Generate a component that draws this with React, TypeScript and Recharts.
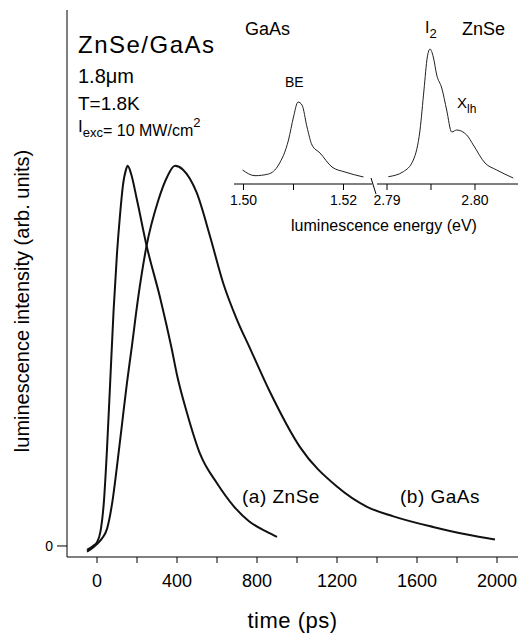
import { LineChart, Line, XAxis, YAxis } from 'recharts';

const FONT = '"Liberation Sans", Arial, Helvetica, sans-serif';

// time-resolved PL, normalised (arb. units), time in ps
const znseTime = [-50, -20, 0, 17, 35, 50, 65, 83, 100, 115, 130, 145, 153, 170, 200, 248, 317, 373, 400, 450, 517, 600, 683, 760, 850, 900];
const znseIntensity = [-0.01, 0, 0.01, 0.037, 0.12, 0.255, 0.42, 0.62, 0.77, 0.87, 0.95, 0.99, 1.0, 0.98, 0.91, 0.79, 0.65, 0.52, 0.45, 0.35, 0.24, 0.165, 0.105, 0.065, 0.037, 0.024];

const gaasTime = [-50, 0, 25, 50, 75, 100, 125, 150, 173, 205, 248, 307, 350, 390, 430, 498, 565, 632, 700, 765, 865, 1015, 1198, 1350, 1482, 1680, 1850, 1990];
const gaasIntensity = [-0.015, 0.005, 0.02, 0.045, 0.11, 0.21, 0.32, 0.43, 0.52, 0.65, 0.79, 0.91, 0.97, 1.0, 0.99, 0.93, 0.815, 0.69, 0.595, 0.52, 0.405, 0.26, 0.157, 0.103, 0.078, 0.05, 0.03, 0.017];

const timeTicks = [0, 200, 400, 600, 800, 1000, 1200, 1400, 1600, 1800, 2000];
const intensityTicks = [0];

// inset: cw spectra, energy in eV
const gaasEnergy = [1.4998, 1.5023, 1.505, 1.507, 1.509, 1.51, 1.5109, 1.5117, 1.5127, 1.5137, 1.5153, 1.5177, 1.5203, 1.524];
const gaasSpectrum = [0.14, 0.083, 0.1, 0.19, 0.44, 0.67, 0.82, 0.79, 0.57, 0.39, 0.31, 0.17, 0.12, 0.07];

const znseEnergy = [2.79015, 2.79185, 2.79299, 2.79375, 2.7942, 2.79458, 2.79489, 2.79526, 2.79565, 2.79622, 2.79678, 2.79735, 2.79792, 2.79906, 2.79981, 2.80114, 2.80247, 2.80435];
const znseSpectrum = [0.073, 0.123, 0.24, 0.54, 0.94, 1.27, 1.35, 1.27, 1.09, 0.96, 0.74, 0.52, 0.54, 0.49, 0.39, 0.21, 0.14, 0.06];

const gaasEnergyTicks = [1.5, 1.51, 1.52];
const gaasEnergyLabels = ['1.50', '', '1.52'];
const znseEnergyTicks = [2.79, 2.795, 2.8];
const znseEnergyLabels = ['2.79', '', '2.80'];

const zip = (xs: number[], ys: number[]) => xs.map((x, i) => ({ x, y: ys[i] }));

const znseDecay = zip(znseTime, znseIntensity);
const gaasDecay = zip(gaasTime, gaasIntensity);
const gaasPL = zip(gaasEnergy, gaasSpectrum);
const znsePL = zip(znseEnergy, znseSpectrum);

const PAD = 20;

function InsetPanel({
  data,
  domain,
  ticks,
  labels,
  width,
  padRight,
  showLeft,
}: {
  data: { x: number; y: number }[];
  domain: [number, number];
  ticks: number[];
  labels: string[];
  width: number;
  padRight: number;
  showLeft: boolean;
}) {
  return (
    <LineChart width={width + PAD + padRight} height={214} data={data} margin={{ top: 0, right: padRight, bottom: 0, left: PAD }}>
      <XAxis
        dataKey="x"
        type="number"
        domain={domain}
        allowDataOverflow
        ticks={ticks}
        interval={0}
        tickFormatter={(v: number) => labels[ticks.indexOf(v)] ?? ''}
        height={40}
        tickSize={6}
        tickMargin={5}
        stroke="#000"
        tick={{ fill: '#000', fontSize: 14, fontFamily: FONT }}
      />
      <YAxis
        type="number"
        domain={[0, 1.74]}
        width={0}
        tick={false}
        tickLine={false}
        axisLine={showLeft ? { stroke: '#000' } : false}
      />
      <Line type="monotone" dataKey="y" stroke="#222" strokeWidth={1} dot={false} isAnimationActive={false} />
    </LineChart>
  );
}

export default function App() {
  return (
    <div style={{ position: 'absolute', left: 0, top: 0, width: 523, height: 635, background: '#fff', fontFamily: FONT, overflow: 'hidden' }}>
      <LineChart width={523} height={635} margin={{ top: 10, right: 5, bottom: 0, left: 0 }}>
        <XAxis
          dataKey="x"
          type="number"
          domain={[-150, 2105]}
          allowDataOverflow
          ticks={timeTicks}
          interval={0}
          tickFormatter={(v: number) => (v % 400 === 0 ? String(v) : '')}
          height={78}
          tickSize={6}
          tickMargin={11}
          stroke="#000"
          tick={{ fill: '#000', fontSize: 18, fontFamily: FONT }}
        />
        <XAxis xAxisId="top" orientation="top" type="number" domain={[-150, 2105]} height={0} tick={false} tickLine={false} stroke="#000" />
        <YAxis
          type="number"
          domain={[-0.029, 1.41]}
          allowDataOverflow
          ticks={intensityTicks}
          interval={0}
          width={67}
          tickSize={10}
          tickMargin={4}
          stroke="#000"
          tick={{ fill: '#000', fontSize: 14, fontFamily: FONT }}
        />
        <YAxis yAxisId="right" orientation="right" type="number" domain={[0, 1]} width={0} tick={false} tickLine={false} stroke="#000" />
        <Line type="monotone" data={znseDecay} dataKey="y" stroke="#111" strokeWidth={2} dot={false} isAnimationActive={false} />
        <Line type="monotone" data={gaasDecay} dataKey="y" stroke="#111" strokeWidth={2} dot={false} isAnimationActive={false} />
      </LineChart>

      <div style={{ position: 'absolute', left: 234 - PAD, top: 10 }}>
        <InsetPanel data={gaasPL} domain={[1.4981, 1.5257]} ticks={gaasEnergyTicks} labels={gaasEnergyLabels} width={138} padRight={0} showLeft />
      </div>
      <div style={{ position: 'absolute', left: 377 - PAD, top: 10 }}>
        <InsetPanel data={znsePL} domain={[2.78886, 2.80489]} ticks={znseEnergyTicks} labels={znseEnergyLabels} width={141} padRight={0} showLeft={false} />
      </div>

      <svg width={523} height={635} style={{ position: 'absolute', left: 0, top: 0, pointerEvents: 'none' }} fontFamily={FONT} fill="#000">
        <line x1={371} y1={178} x2={376} y2={194} stroke="#000" strokeWidth={1} />
        <text x={78} y={53} fontSize={24} letterSpacing={1.5}>ZnSe/GaAs</text>
        <text x={78} y={83} fontSize={20}>1.8μm</text>
        <text x={78} y={110} fontSize={19}>T=1.8K</text>
        <text x={78} y={132} fontSize={17}>
          I<tspan fontSize={13} dy={5}>exc</tspan>
          <tspan fontSize={16} dy={-1}>= 10 MW/cm</tspan>
          <tspan fontSize={13} dy={-9}>2</tspan>
        </text>
        <text x={242} y={503} fontSize={19} letterSpacing={0.5}>(a) ZnSe</text>
        <text x={400} y={503} fontSize={19} letterSpacing={0.5}>(b) GaAs</text>
        <text x={292.5} y={628} fontSize={22} textAnchor="middle" letterSpacing={0.5}>time (ps)</text>
        <text x={0} y={0} fontSize={20} textAnchor="middle" transform="translate(29 301) rotate(-90)">
          luminescence intensity (arb. units)
        </text>
        <text x={245} y={35} fontSize={18}>GaAs</text>
        <text x={462} y={35} fontSize={18}>ZnSe</text>
        <text x={425} y={33} fontSize={16}>
          I<tspan fontSize={13} dy={5}>2</tspan>
        </text>
        <text x={285} y={87} fontSize={14}>BE</text>
        <text x={457} y={108} fontSize={15}>
          X<tspan fontSize={12} dy={5}>lh</tspan>
        </text>
        <text x={384} y={231} fontSize={16} textAnchor="middle">luminescence energy (eV)</text>
      </svg>
    </div>
  );
}
